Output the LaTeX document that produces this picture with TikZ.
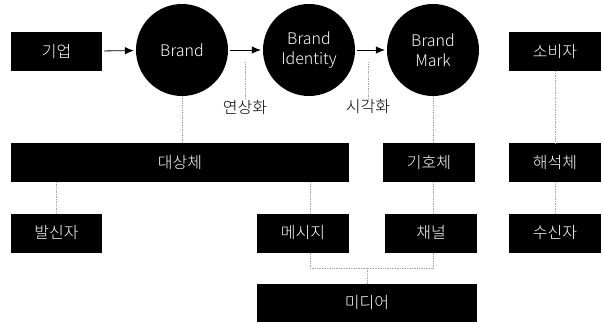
\documentclass[tikz,border=0pt]{standalone}
\usepackage{fontspec}
\setmainfont{Noto Sans CJK KR}[UprightFont={* Light}]
\usetikzlibrary{positioning}
\usetikzlibrary{arrows.meta}
\tikzstyle{rectangle1} = [rectangle, minimum width=92pt, minimum height=39pt, inner sep=0pt, text centered, draw=none, fill=black, text=white]
\tikzstyle{rectangle2} = [rectangle1, minimum width=338pt]
\tikzstyle{rectangle3} = [rectangle1, minimum width=220pt, minimum height=38pt]
\tikzstyle{circle1} = [circle, minimum size=92pt, inner sep=0pt, align=center, fill=black, text=white]
\tikzstyle{label1} = [inner sep=1pt, text=black]
\tikzstyle{line1} = [gray!70, densely dotted, line width=0.7pt]
\tikzstyle{arrow1} = [-{Latex[length=9pt,width=7.5pt]}, line width=0.8pt, shorten <=2pt, shorten >=2pt]

\begin{document}
\begin{tikzpicture}[x=1pt, y=-1pt, font=\fontsize{16}{20}\selectfont]
			\useasboundingbox (0,0) rectangle (602,322);
			% top row
			\node[rectangle1, minimum width=91pt](company) at (56.5,51.5){기업};
			\node[circle1](brand) at (182,50){Brand};
			\node[circle1](identity) at (309,50){Brand\\Identity};
			\node[circle1](mark) at (433,50){Brand\\Mark};
			\node[rectangle1](consumer) at (555,51.5){소비자};
			\draw[arrow1] (company) -- (brand);
			\draw[arrow1] (brand) -- (identity);
			\draw[arrow1] (identity) -- (mark);
			\node[label1](assoc) at (245,107){연상화};
			\node[label1](visual) at (368,107){시각화};
			\draw[line1] (assoc.north) -- (245,62);
			\draw[line1] (visual.north) -- (368,62);
			% second row
			\node[rectangle2](object) at (180,162.5){대상체};
			\node[rectangle1](sign) at (429,162.5){기호체};
			\node[rectangle1](interp) at (555,162.5){해석체};
			% third row
			\node[rectangle1, minimum width=91pt](sender) at (56.5,233){발신자};
			\node[rectangle1](message) at (303,233){메시지};
			\node[rectangle1](channel) at (431,233){채널};
			\node[rectangle1](receiver) at (555,233){수신자};
			\node[rectangle3](media) at (367,303){미디어};
			\coordinate (m) at (310,0);
			\coordinate (bus) at (367,268);
			\draw[line1] (brand.south) -- (brand |- object.north);
			\draw[line1] (mark.south) -- (mark |- sign.north);
			\draw[line1] (consumer) -- (interp);
			\draw[line1] (interp) -- (receiver);
			\draw[line1] (sender.north) -- (sender |- object.south);
			\draw[line1] (m |- object.south) -- (m |- message.north);
			\draw[line1] (mark |- sign.south) -- (mark |- channel.north);
			\draw[line1] (m |- message.south) |- (bus) -| (mark |- channel.south);
			\draw[line1] (bus) -- (media.north);
		\end{tikzpicture}
\end{document}
